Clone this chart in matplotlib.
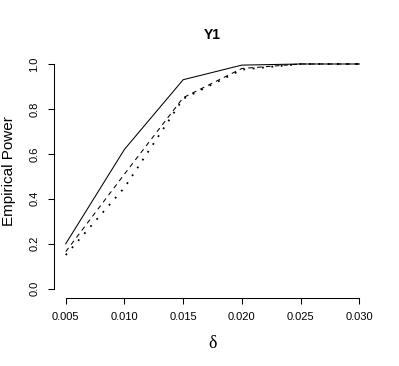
import matplotlib
matplotlib.use("Agg")
import matplotlib.pyplot as plt

delta = [0.005, 0.010, 0.015, 0.020, 0.025, 0.030]
power_solid = [0.20, 0.62, 0.93, 0.995, 1.0, 1.0]
power_dashed = [0.165, 0.51, 0.85, 0.98, 1.0, 1.0]
power_dotted = [0.15, 0.45, 0.845, 0.975, 1.0, 1.0]
xticks = [0.005, 0.010, 0.015, 0.020, 0.025, 0.030]
xticklabels = ["0.005", "0.010", "0.015", "0.020", "0.025", "0.030"]
yticks = [0.0, 0.2, 0.4, 0.6, 0.8, 1.0]
yticklabels = ["0.0", "0.2", "0.4", "0.6", "0.8", "1.0"]

plt.rcParams['font.family'] = ['Liberation Sans', 'DejaVu Sans']

W, H = 399, 366
fig = plt.figure(figsize=(W / 100, H / 100), dpi=100)
left, right, top, bottom = 54, 371, 55, 297.7
ax = fig.add_axes([left / W, (H - bottom) / H, (right - left) / W, (bottom - top) / H])

lw = 0.75
ax.plot(delta, power_solid, color='black', lw=lw, linestyle='-')
ax.plot(delta, power_dashed, color='black', lw=lw, linestyle=(0, (4.5, 4)))
ax.plot(delta, power_dotted, color='black', lw=1.3, linestyle=(0, (1, 4.2)),
        dash_capstyle='butt')

ax.set_xlim(0.004, 0.031)
ax.set_ylim(-0.04, 1.04)
for s in ['top', 'right']:
    ax.spines[s].set_visible(False)
ax.spines['left'].set_bounds(0, 1)
ax.spines['bottom'].set_bounds(0.005, 0.030)
ax.spines['left'].set_linewidth(0.75)
ax.spines['bottom'].set_linewidth(0.75)

ax.set_xticks(xticks)
ax.set_xticklabels(xticklabels)
ax.set_yticks(yticks)
ax.set_yticklabels(yticklabels, rotation=90, va='center')
ax.tick_params(axis='both', direction='out', length=4.5, width=0.75, labelsize=8)
ax.tick_params(axis='x', pad=6)
ax.tick_params(axis='y', pad=6)

fig.text((left + right) / 2 / W, 1 - 35 / H, "Y1", ha='center', va='center',
         fontsize=10, fontweight='bold')
fig.text((left + right) / 2 / W, 1 - 343 / H, "\u03b4", ha='center', va='center',
         fontsize=13, family=['Liberation Serif', 'DejaVu Serif'])
fig.text(9 / W, 1 - 171 / H, "Empirical Power", ha='center', va='center',
         rotation=90, fontsize=11)

fig.savefig("out.png", dpi=100)
